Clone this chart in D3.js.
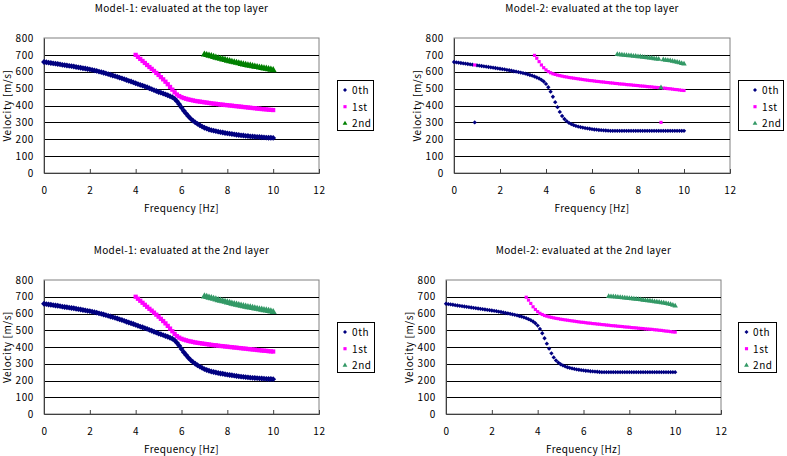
<!DOCTYPE html>
<html><head><meta charset="utf-8">
<script src="https://cdn.jsdelivr.net/npm/d3@7"></script>
<style>
html,body{margin:0;padding:0;background:#fff;}
svg text{font-family:"Noto Sans CJK JP","DejaVu Sans",sans-serif;font-size:10px;fill:#000;}
</style></head>
<body>
<svg id="chart" width="787" height="456"></svg>
<script>
// ---------- DATA ----------
const FREQ_STEP = 0.1;           // Hz between computed points
const xTicks = [0, 2, 4, 6, 8, 10, 12];
const yTicks = [0, 100, 200, 300, 400, 500, 600, 700, 800];
const modeNames = ["0th", "1st", "2nd"];

// Model-1 (both layers look alike)
const m1Mode0Start = 0.0;
const m1Mode0 = [658,656,654,652,650,648,646,644,641,639,
  637,635,633,631,628,626,624,621,619,616,
  614,611,608,605,601,598,594,590,586,582,
  578,574,570,565,561,556,551,546,542,537,
  532,527,522,518,513,508,502,497,491,486,
  480,476,471,466,461,455,449,440,425,408,
  388,369,352,336,322,310,300,291,283,275,
  268,263,258,254,251,248,245,242,240,237,
  235,233,231,229,227,225,223,222,220,219,
  217,216,215,214,213,212,211,210,209,209,208];
const m1Mode1Start = 4.0;
const m1Mode1 = [700,688,676,664,652,640,628,617,605,593,
  581,568,555,541,526,510,494,478,465,456,
  449,444,440,436,433,430,427,425,423,421,
  419,417,415,413,411,410,408,406,405,403,
  402,400,399,397,396,394,393,391,390,388,
  387,385,384,382,381,379,378,377,375,374,373];
const m1Mode2Start = 7.0;
const m1Mode2 = [702,699,695,692,688,684,680,677,673,670,
  666,663,659,656,653,650,647,644,641,638,
  636,633,630,628,625,623,620,618,615,612,609];

// Model-2
const m2Mode0Start = 0.0;
const m2Mode0 = [658,656,654,652,650,648,646,644,642,640,
  638,636,634,632,630,628,626,624,622,620,
  618,616,614,611,609,606,603,601,598,595,
  592,589,585,581,577,572,566,560,552,542,
  528,508,482,452,420,390,362,338,320,307,
  297,290,284,279,275,272,269,266,264,262,
  260,258,257,255,254,253,252,251,250,250,
  250,250,250,250,250,250,250,250,250,250,
  250,250,250,250,250,250,250,250,250,250,
  250,250,250,250,250,250,250,250,250,250,250];
const m2Mode1Start = 3.5;
const m2Mode1 = [697,680,660,640,624,611,601,594,588,584,
  580,577,574,571,569,566,564,562,560,558,
  556,554,552,550,548,547,545,543,542,540,
  539,537,536,534,533,531,530,528,527,526,
  524,523,522,520,519,518,516,515,514,512,
  511,510,508,507,506,505,503,502,500,499,
  497,495,494,492,490,489];
const m2Mode2Start = 7.1;
const m2Mode2 = [702,701,700,699,697,696,695,693,692,690,
  689,687,685,684,682,680,678,676,675,673,
  671,669,667,665,663,660,657,654,650,646];

// Model-2 top layer: mis-assigned points [mode, frequency, velocity]
const m2TopOverrides = [[0, 0.9, 300], [1, 0.9, 640], [1, 9.0, 300], [2, 9.0, 505]];

// ---------- BUILD ----------
function series(start, vals) {
  return vals.map((v, i) => ({f: +(start + i * FREQ_STEP).toFixed(2), v}));
}
function applyOverrides(sets, overrides) {
  const out = sets.map(s => s.map(d => ({...d})));
  overrides.forEach(([m, f, v]) => {
    const hit = out[m].find(d => Math.abs(d.f - f) < 1e-6);
    if (hit) hit.v = v; else out[m].push({f, v});
  });
  return out;
}
const m1Sets = [series(m1Mode0Start, m1Mode0), series(m1Mode1Start, m1Mode1), series(m1Mode2Start, m1Mode2)];
const m2Sets = [series(m2Mode0Start, m2Mode0), series(m2Mode1Start, m2Mode1), series(m2Mode2Start, m2Mode2)];
const m2TopSets = applyOverrides(m2Sets, m2TopOverrides);

const navy = "#000080", magenta = "#FF00FF";
const panels = [
  {title: "Model-1: evaluated at the top layer", sets: m1Sets, colors: [navy, magenta, "#008000"],
   box: [44, 319, 38, 173], legend: {x: 337, y: 80, w: 36, h: 50, mx: 8, tx: 15}, big: true},
  {title: "Model-2: evaluated at the top layer", sets: m2TopSets, colors: [navy, magenta, "#339966"],
   box: [454, 730, 38, 173], legend: {x: 738, y: 80, w: 45, h: 50, mx: 17, tx: 24}, big: false},
  {title: "Model-1: evaluated at the 2nd layer", sets: m1Sets, colors: [navy, magenta, "#339966"],
   box: [44, 319, 280, 414], legend: {x: 337, y: 322, w: 37, h: 50, mx: 8, tx: 15}, big: true},
  {title: "Model-2: evaluated at the 2nd layer", sets: m2Sets, colors: [navy, magenta, "#339966"],
   box: [446, 721, 280, 414], legend: {x: 738, y: 322, w: 38, h: 50, mx: 8.5, tx: 15}, big: false}
];

const svg = d3.select("#chart");
const shapes = [d3.symbolDiamond2, d3.symbolSquare, d3.symbolTriangle];

panels.forEach(p => {
  const [L, R, T, B] = p.box;
  const x = d3.scaleLinear().domain([0, 12]).range([L, R]);
  const y = d3.scaleLinear().domain([0, 800]).range([B, T]);
  const g = svg.append("g");

  // title
  g.append("text").attr("x", (L + R) / 2).attr("y", T - 26).attr("text-anchor", "middle")
    .attr("letter-spacing", "0.35px").text(p.title);

  // frame
  g.append("rect").attr("x", L).attr("y", T).attr("width", R - L).attr("height", B - T)
    .attr("fill", "#fff").attr("stroke", "#808080").attr("stroke-width", 1);

  // gridlines
  g.selectAll(".grid").data(yTicks.filter(t => t > 0 && t < 800)).enter().append("line")
    .attr("x1", L).attr("x2", R).attr("y1", d => Math.round(y(d)) + 0.5).attr("y2", d => Math.round(y(d)) + 0.5)
    .attr("stroke", "#000").attr("stroke-width", 1);

  // axes
  const xAxis = d3.axisBottom(x).tickValues(xTicks).tickSize(-4).tickPadding(14).tickFormat(d3.format("d"));
  const xg = g.append("g").attr("transform", `translate(0,${B})`).call(xAxis);
  xg.select(".domain").attr("stroke", "#404040");
  xg.selectAll(".tick line").attr("stroke", "#404040");
  const yAxis = d3.axisLeft(y).tickValues(yTicks).tickSize(0).tickPadding(10).tickFormat(d3.format("d"));
  const yg = g.append("g").attr("transform", `translate(${L},0)`).call(yAxis);
  yg.select(".domain").attr("stroke", "#404040");
  g.selectAll(".tick text").attr("font-size", 10.5).attr("font-family", null).attr("letter-spacing", "0.6px");

  // axis labels
  g.append("text").attr("x", (L + R) / 2).attr("y", B + 39).attr("text-anchor", "middle")
    .attr("letter-spacing", "0.35px").text("Frequency [Hz]");
  g.append("text").attr("transform", `translate(${L - 33},${(T + B) / 2}) rotate(-90)`)
    .attr("text-anchor", "middle").attr("letter-spacing", "0.6px").text("Velocity [m/s]");

  // points
  const sizes = p.big ? [22, 18, 22] : [12, 10, 13];
  p.sets.forEach((s, m) => {
    const sym = d3.symbol().type(shapes[m]).size(sizes[m]);
    g.append("g").selectAll("path").data(s).enter().append("path")
      .attr("transform", d => `translate(${x(d.f)},${y(d.v)})`)
      .attr("d", sym).attr("fill", p.colors[m]);
  });

  // legend
  const lg = p.legend;
  g.append("rect").attr("x", lg.x + 0.5).attr("y", lg.y + 0.5).attr("width", lg.w).attr("height", lg.h)
    .attr("fill", "#fff").attr("stroke", "#000");
  modeNames.forEach((name, m) => {
    const cy = lg.y + 10 + m * 16.7;
    g.append("path").attr("transform", `translate(${lg.x + lg.mx},${cy})`)
      .attr("d", d3.symbol().type(shapes[m]).size(10)()).attr("fill", p.colors[m]);
    g.append("text").attr("x", lg.x + lg.tx).attr("y", cy + 4).attr("font-size", 10.5)
      .attr("letter-spacing", "0.6px").text(name);
  });
});
</script>
</body></html>
